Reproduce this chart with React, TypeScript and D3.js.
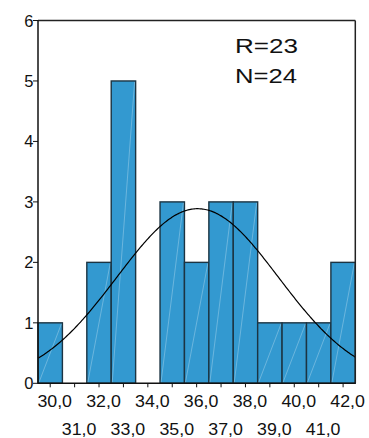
import React from "react";
import * as d3 from "d3";

const binCenters = [30, 31, 32, 33, 34, 35, 36, 37, 38, 39, 40, 41, 42];
const counts = [1, 0, 2, 5, 0, 3, 2, 3, 3, 1, 1, 1, 2];
const yTicks = [0, 1, 2, 3, 4, 5, 6];
const xTicksRow1 = [30, 32, 34, 36, 38, 40, 42];
const xTicksRow2 = [31, 33, 35, 37, 39, 41];
const fitMean = 36.04;
const fitSd = 3.316;
const totalN = 24;
const annotation = ["R=23", "N=24"];

const W = 369;
const H = 438;
const left = 38;
const right = 355.3;
const top = 20.5;
const bottom = 383.3;

export default function App() {
  const x = d3.scaleLinear().domain([29.5, 42.5]).range([left, right]);
  const y = d3.scaleLinear().domain([0, 6]).range([bottom, top]);
  const binW = 1;
  const normal = (v: number) =>
    (totalN * binW) / (fitSd * Math.sqrt(2 * Math.PI)) *
    Math.exp(-0.5 * ((v - fitMean) / fitSd) ** 2);
  const curvePts = d3.range(29.5, 42.5001, 0.05).map((v) => [v, normal(v)] as [number, number]);
  const line = d3
    .line<[number, number]>()
    .x((d) => x(d[0]))
    .y((d) => y(d[1]))
    .curve(d3.curveLinear);
  const fmt = (v: number) => v.toFixed(1).replace(".", ",");
  const font = "Arial, 'Liberation Sans', sans-serif";
  return (
    <svg
      width={W}
      height={H}
      style={{ position: "absolute", left: 0, top: 0, background: "#fff" }}
    >
      {binCenters.map((c, i) =>
        counts[i] > 0 ? (
          <g key={c}>
            <rect
              x={x(c - 0.5)}
              y={y(counts[i])}
              width={x(c + 0.5) - x(c - 0.5)}
              height={y(0) - y(counts[i])}
              fill="#3399D0"
              stroke="#1c3442"
              strokeWidth={1.4}
            />
            <line
              x1={x(c - 0.5) + 1}
              y1={y(0) - 1}
              x2={x(c + 0.5) - 1}
              y2={y(counts[i]) + 1}
              stroke="#ffffff"
              strokeOpacity={0.35}
              strokeWidth={0.8}
            />
          </g>
        ) : null
      )}
      <path d={line(curvePts) || ""} fill="none" stroke="#000" strokeWidth={1.2} />
      <line x1={left} y1={top} x2={right} y2={top} stroke="#222" strokeWidth={1.5} />
      <line x1={right} y1={top} x2={right} y2={bottom} stroke="#222" strokeWidth={1.5} />
      <line x1={left} y1={top} x2={left} y2={bottom} stroke="#111" strokeWidth={1.5} />
      <line x1={left} y1={bottom} x2={right} y2={bottom} stroke="#111" strokeWidth={1.5} />
      {yTicks.map((t) => (
        <g key={t}>
          <line x1={left - 5} x2={left} y1={y(t)} y2={y(t)} stroke="#111" strokeWidth={1} />
          <text
            x={left - 4.5}
            y={y(t) + 6}
            textAnchor="end"
            fontSize={16.5}
            fontFamily={font}
            fill="#111"
          >
            {t}
          </text>
        </g>
      ))}
      {binCenters.map((c) => (
        <line key={c} x1={x(c)} x2={x(c)} y1={bottom} y2={bottom + 4} stroke="#111" strokeWidth={1} />
      ))}
      {xTicksRow1.map((t) => (
        <text
          key={t}
          x={x(t) + 4.5 - 17.3}
          y={406.5}
          fontSize={16.5}
          fontFamily={font}
          fill="#111"
          textLength={34.6}
          lengthAdjust="spacingAndGlyphs"
        >
          {fmt(t)}
        </text>
      ))}
      {xTicksRow2.map((t) => (
        <text
          key={t}
          x={x(t) + 4.5 - 17.3}
          y={435}
          fontSize={16.5}
          fontFamily={font}
          fill="#111"
          textLength={34.6}
          lengthAdjust="spacingAndGlyphs"
        >
          {fmt(t)}
        </text>
      ))}
      {annotation.map((s, i) => (
        <text
          key={s}
          x={235}
          y={53 + i * 30}
          fontSize={21}
          fontFamily={font}
          fill="#111"
          textLength={i === 0 ? 63 : 62}
          lengthAdjust="spacingAndGlyphs"
        >
          {s}
        </text>
      ))}
    </svg>
  );
}
